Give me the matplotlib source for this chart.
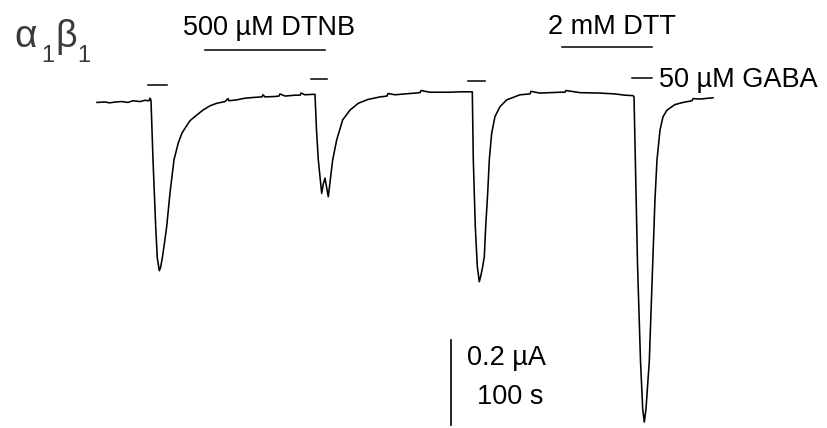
import matplotlib
matplotlib.use("Agg")
import matplotlib.pyplot as plt

plt.rcParams['font.family'] = ['Liberation Sans', 'DejaVu Sans']

# membrane current trace, time in s, current in uA (inward is negative)
time_s = [0, 8, 13, 18, 25, 31, 36, 43, 48, 52, 53, 54,
          56, 58.7, 60.3, 62.3, 63.5, 65.3, 67.5, 69.7, 73, 77, 81.3, 85, 89, 93,
          98, 106, 113, 119.7, 128, 131, 132, 139.7, 148, 158, 165, 166, 168,
          178, 182, 183, 188, 193, 198, 203, 204, 208, 216,
          218, 219.5, 221.3, 223, 224.7, 226.3, 228, 229.7, 231.3, 233.5, 235.7,
          239.7, 245.7, 253, 261.3, 271, 283, 290, 291, 298, 313, 323, 324,
          333, 343, 353, 363, 373,
          375.3, 376.3, 378.3, 380.3, 382.3, 384, 385.7, 387.3, 388.7, 390.7,
          392.3, 394.7, 398, 403, 409.7, 423, 433, 434, 443, 453, 463, 468, 469,
          483, 503, 518, 528, 536,
          537, 538.5, 540.5, 543.5, 545.7, 547.3, 549, 552.3, 555.7, 558, 560,
          563, 566, 570, 578, 586, 595, 596, 603, 616]
current_uA = [-0.006, -0.005, -0.007, -0.005, -0.004, -0.006, -0.002, -0.004, -0.001, -0.002, 0.004, -0.001,
              -0.141, -0.298, -0.372, -0.402, -0.395, -0.372, -0.336, -0.298, -0.219, -0.141, -0.101, -0.078, -0.063, -0.049,
              -0.039, -0.024, -0.014, -0.008, -0.004, 0.003, -0.002, 0.000, 0.004, 0.006, 0.007, 0.012, 0.007,
              0.008, 0.009, 0.014, 0.009, 0.010, 0.011, 0.011, 0.016, 0.012, 0.013,
              0.013, -0.071, -0.141, -0.181, -0.220, -0.198, -0.184, -0.207, -0.228, -0.184, -0.141,
              -0.094, -0.047, -0.024, -0.008, 0.001, 0.007, 0.009, 0.015, 0.012, 0.015, 0.017, 0.022,
              0.018, 0.018, 0.018, 0.019, 0.019,
              0.019, -0.141, -0.298, -0.392, -0.428, -0.412, -0.392, -0.369, -0.298, -0.219,
              -0.141, -0.078, -0.039, -0.016, 0.000, 0.012, 0.014, 0.020, 0.016, 0.017, 0.018, 0.018, 0.022,
              0.017, 0.016, 0.014, 0.011, 0.010,
              0.007, -0.158, -0.386, -0.614, -0.727, -0.758, -0.727, -0.614, -0.386, -0.233, -0.141,
              -0.071, -0.040, -0.024, -0.011, -0.006, -0.002, 0.003, 0.002, 0.005]

# application bars
gaba_start = [51, 214, 371, 535]
gaba_end = [70, 230, 388, 555]
gaba_level = [0.035, 0.048, 0.045, 0.052]
dtnb_span = [108, 228]
dtnb_level = 0.118
dtt_span = [465, 555]
dtt_level = 0.125
scale_uA = 0.2

fig = plt.figure(figsize=(8.27, 4.28), dpi=100)
ax = fig.add_axes([0, 0, 1, 1])
ax.set_xlim(-97, 730)
ax.set_ylim(-0.772, 0.235)
ax.axis('off')

ax.plot(time_s, current_uA, color='black', lw=1.15)

for s, e, lv in zip(gaba_start, gaba_end, gaba_level):
    ax.plot([s, e], [lv, lv], color='black', lw=1.1)
ax.text(562, 0.047, '50 \u00b5M GABA', fontsize=19.5, va='center', ha='left')

ax.plot(dtnb_span, [dtnb_level] * 2, color='black', lw=1.1)
ax.text(172, 0.169, '500 \u00b5M DTNB', fontsize=19.5, va='center', ha='center')
ax.plot(dtt_span, [dtt_level] * 2, color='black', lw=1.1)
ax.text(515.5, 0.172, '2 mM DTT', fontsize=19.5, va='center', ha='center')

# subunit label, drawn piece by piece so the subscripts sit low like the original
grey = '#3a3a3a'
ax.text(-83, 0.125, '\u03b1', fontsize=28, color=grey, va='baseline', ha='left')
ax.text(-56, 0.089, '1', fontsize=17, color=grey, va='baseline', ha='left')
ax.text(-42, 0.125, '\u03b2', fontsize=27, color=grey, va='baseline', ha='left')
ax.text(-20, 0.089, '1', fontsize=17, color=grey, va='baseline', ha='left')

# scale bar
ax.plot([353.7, 353.7], [-0.565, -0.565 - scale_uA], color='black', lw=1.2)
ax.text(370, -0.607, '0.2 \u00b5A', fontsize=19.5, va='center', ha='left')
ax.text(380, -0.699, '100 s', fontsize=19.5, va='center', ha='left')

fig.savefig('out.png', dpi=100)
